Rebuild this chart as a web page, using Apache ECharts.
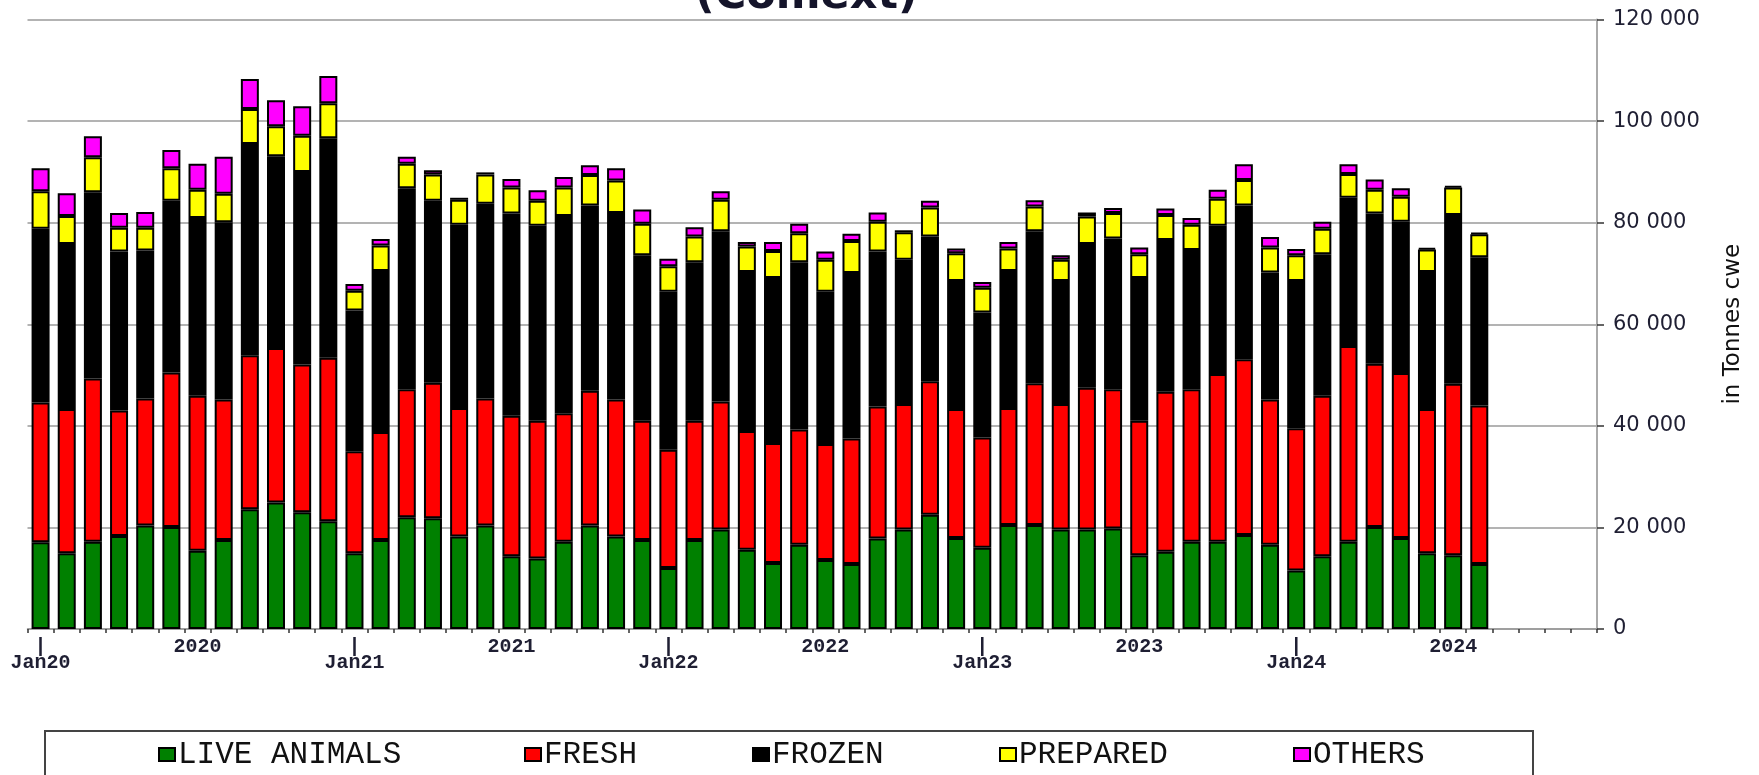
<!DOCTYPE html>
<html>
<head>
<meta charset="utf-8">
<script src="https://cdn.jsdelivr.net/npm/echarts@6/dist/echarts.min.js"></script>
<style>
html,body{margin:0;padding:0;background:#fff;}
#chart{width:1759px;height:775px;}
</style>
</head>
<body>
<div id="chart"></div>
<script>
// ---- data (tonnes cwe), Jan 2020 .. Aug 2024 ----
const monthNames = ['Jan','Feb','Mar','Apr','May','Jun','Jul','Aug','Sep','Oct','Nov','Dec'];
const years = ['20','21','22','23','24'];
const seriesNames = ['LIVE ANIMALS','FRESH','FROZEN','PREPARED','OTHERS'];

const liveAnimals = [17100,14900,17200,18300,20400,20100,15400,17500,23600,24900,23000,21200,
  14900,17500,22000,21800,18200,20400,14300,13900,17200,20400,18200,17500,
  12000,17500,19600,15600,13000,16600,13600,12800,17800,19600,22500,17900,
  16000,20500,20500,19600,19600,19800,14500,15200,17200,17200,18500,16600,
  11500,14300,17200,20100,17900,14900,14500,12800];
const fresh = [27500,28400,32100,24700,25000,30400,30500,27700,30300,30400,29100,32200,
  20100,21300,25200,26700,25300,25000,27700,27100,25300,26500,27000,23500,
  23300,23500,25200,23400,23600,22700,22800,24700,26000,24700,26300,25400,
  21700,23000,27900,24700,27900,27400,26500,31500,30000,33000,34600,28600,
  28000,31600,38500,32100,32500,28400,33800,31200];
const frozen = [34200,32500,36700,31300,29100,33800,35000,34900,41600,37800,37900,43200,
  27700,31700,39600,35800,36100,38300,39800,38400,38800,36500,36700,32600,
  31100,31200,33500,31300,32500,32900,30000,32600,30500,28400,28500,25200,
  24600,27000,29900,24200,28300,29700,28100,29900,27400,29200,30300,25000,
  29000,27900,29200,29600,29800,27000,33200,29200];
const prepared = [7400,5500,6900,4700,4500,6400,5600,5600,6900,5900,7100,6900,
  3900,5000,4800,5200,4900,5800,5100,4900,5600,6000,6400,6200,
  5000,5100,6200,5000,5300,5700,6300,6300,5900,5400,5700,5500,
  4900,4400,4900,4200,5400,5000,4700,4900,5000,5300,5000,4900,
  5100,5000,4700,4700,4900,4400,5400,4500];
const others = [4500,4500,4100,2900,3100,3600,5100,7300,5900,5100,5800,5400,
  1300,1300,1400,800,400,400,1700,2100,2100,1900,2400,2800,
  1500,1800,1700,900,1800,1900,1600,1400,1800,400,1300,900,
  1100,1300,1200,900,800,1000,1300,1300,1300,1800,3100,2100,
  1200,1400,1900,2000,1700,300,300,300];

const yTicks = [0,20000,40000,60000,80000,100000,120000];

// categories Jan20 .. Dec24 (axis runs to end of 2024)
const categories = [];
years.forEach(y => monthNames.forEach(m => categories.push(m + y)));

const colors = ['#008000','#ff0000','#000000','#ffff00','#ff00ff'];
const seriesData = [liveAnimals, fresh, frozen, prepared, others];

const chart = echarts.init(document.getElementById('chart'), null, {renderer:'canvas'});

const legendLefts = [158, 524, 752, 999, 1293];
const legends = seriesNames.map((n, i) => ({
  data: [n],
  left: legendLefts[i],
  top: 739,
  padding: 0,
  itemWidth: 16,
  itemHeight: 13,
  icon: 'rect',
  itemStyle: {borderColor: '#000', borderWidth: 2},
  textStyle: {fontFamily: 'Liberation Mono', fontSize: 31, color: '#111', padding: [0,0,0,-2]}
}));

const option = {
  animation: false,
  backgroundColor: '#fff',
  title: {
    text: '(Comext)',
    left: 695,
    top: -25,
    padding: 0,
    textStyle: {fontFamily: 'DejaVu Sans', fontWeight: 'bold', fontSize: 43, color: '#14142a'}
  },
  legend: legends,
  graphic: [{
    type: 'rect',
    shape: {x: 45, y: 731, width: 1488, height: 80},
    style: {fill: 'none', stroke: '#444', lineWidth: 2},
    silent: true
  }],
  grid: {left: 27.5, right: 162, top: 19.5, bottom: 146, containLabel: false, outerBoundsMode: 'none'},
  xAxis: {
    type: 'category',
    data: categories,
    boundaryGap: true,
    axisLine: {show: true, lineStyle: {color: '#999', width: 1.5}},
    axisTick: {show: true, interval: 0, length: 4, lineStyle: {color: '#333', width: 1.5}},
    axisLabel: {
      interval: 0,
      margin: 10,
      fontFamily: 'Liberation Mono',
      fontWeight: 'bold',
      fontSize: 20,
      lineHeight: 16,
      color: '#1f1f33',
      verticalAlign: 'top',
      formatter: function (v, i) {
        if (i % 12 === 0) return '|\n' + v;
        if (i % 12 === 6) return '20' + v.slice(3);
        return '';
      }
    },
    splitLine: {show: false}
  },
  yAxis: {
    type: 'value',
    position: 'right',
    min: yTicks[0],
    max: yTicks[yTicks.length - 1],
    interval: 20000,
    name: 'in Tonnes cwe',
    nameLocation: 'middle',
    nameRotate: 90,
    nameGap: 125,
    nameTextStyle: {fontFamily: 'DejaVu Sans', fontSize: 23, color: '#111'},
    axisLine: {show: true, lineStyle: {color: '#aaa', width: 2}},
    axisTick: {show: true, length: 7, lineStyle: {color: '#333', width: 1.5}},
    axisLabel: {
      margin: 16,
      fontFamily: 'DejaVu Sans',
      fontSize: 21,
      color: '#1f1f33',
      formatter: v => v === 0 ? '0' : Math.round(v / 1000) + ' 000'
    },
    splitLine: {show: true, lineStyle: {color: '#9a9a9a', width: 1.5}}
  },
  series: seriesNames.map((n, i) => ({
    name: n,
    type: 'bar',
    stack: 'total',
    barWidth: 18,
    data: seriesData[i],
    itemStyle: {color: colors[i], borderColor: '#000', borderWidth: 2},
    emphasis: {disabled: true}
  }))
};

chart.setOption(option);
</script>
</body>
</html>
